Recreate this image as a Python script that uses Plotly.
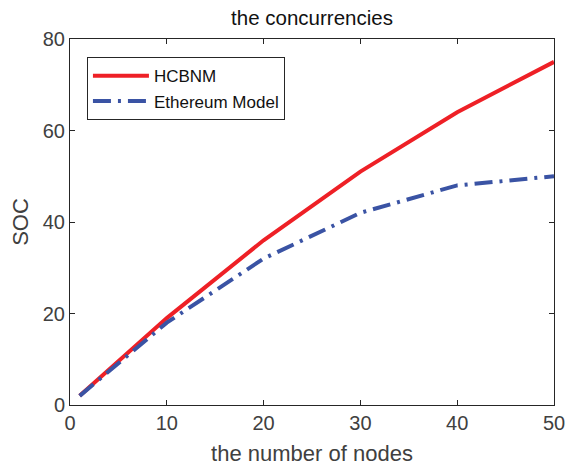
import plotly.graph_objects as go

nodes = [1, 10, 20, 30, 40, 50]
hcbnm = [2, 19, 36, 51, 64, 75]
ethereum = [2, 18, 32, 42, 48, 50]

x_ticks = [0, 10, 20, 30, 40, 50]
y_ticks = [0, 20, 40, 60, 80]

FONT = "Liberation Sans, Arial, Helvetica"
GRAY = "#404040"

fig = go.Figure()
fig.add_trace(go.Scatter(x=nodes, y=hcbnm, mode="lines", name="HCBNM",
                         line=dict(color="#ee2026", width=4)))
fig.add_trace(go.Scatter(x=nodes, y=ethereum, mode="lines", name="Ethereum Model",
                         line=dict(color="#3a53a4", width=4, dash="18px,7px,3px,7px")))

axis_common = dict(showline=True, linecolor="#262626", linewidth=1, mirror="ticks",
                   ticks="inside", ticklen=5, tickcolor="#262626", showgrid=False,
                   zeroline=False, automargin=False, ticklabeloverflow="allow",
                   tickfont=dict(family=FONT, size=20, color=GRAY))

fig.update_xaxes(range=[0, 50], tickvals=x_ticks,
                 title=dict(text="the number of nodes", font=dict(family=FONT, size=22, color=GRAY), standoff=16),
                 **axis_common)
fig.update_yaxes(range=[0, 80], tickvals=y_ticks,
                 title=dict(text="SOC", font=dict(family=FONT, size=22, color=GRAY), standoff=8),
                 **axis_common)

fig.update_layout(
    template="none",
    width=568, height=466,
    margin=dict(l=70, r=14, t=39, b=61),
    paper_bgcolor="white", plot_bgcolor="white",
    title=dict(text="the concurrencies", x=0.5493, xanchor="center", y=0.961, yanchor="middle",
               font=dict(family=FONT, size=20.5, color="#111111")),
    legend=dict(x=0.035, y=0.95, xanchor="left", yanchor="top",
                bgcolor="white", bordercolor="#262626", borderwidth=1,
                font=dict(family=FONT, size=17, color="#111111"),
                itemwidth=56, tracegroupgap=0),
    showlegend=True,
)

fig.write_html("out.html", config={"displayModeBar": False},
               post_script="document.body.style.margin='0';")
